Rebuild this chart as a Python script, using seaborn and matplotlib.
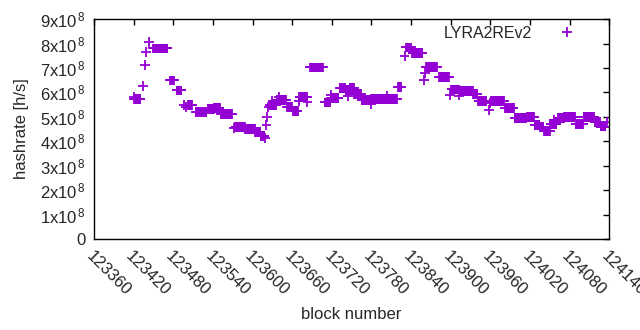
import numpy as np
import pandas as pd
import seaborn as sns
import matplotlib.pyplot as plt

# runs of blocks sharing the same hashrate estimate: first block, number of blocks, hashrate (x1e8 h/s)
run_start = [123420, 123421, 123434, 123437, 123439, 123443, 123449, 123475, 123485,
             123496, 123499, 123502, 123514, 123532, 123542, 123552, 123572, 123574,
             123589, 123604, 123613, 123619, 123621, 123622, 123624, 123626, 123630,
             123631, 123637, 123640, 123652, 123661, 123670, 123671, 123683, 123687,
             123709, 123718, 123719, 123732, 123741, 123745, 123747, 123754, 123765,
             123779, 123780, 123797, 123803, 123820, 123830, 123832, 123842, 123859,
             123861, 123863, 123882, 123899, 123901, 123913, 123914, 123934, 123942,
             123958, 123960, 123961, 123982, 123997, 124015, 124027, 124035, 124041,
             124051, 124056, 124062, 124072, 124089, 124101, 124118, 124127, 124137]
run_len = [1, 10, 1, 1, 1, 1, 23, 7, 8,
           1, 1, 7, 17, 10, 9, 18, 1, 15,
           15, 8, 6, 1, 1, 1, 1, 4, 1,
           5, 14, 1, 8, 8, 1, 12, 1, 20,
           9, 1, 12, 9, 6, 1, 7, 11, 14,
           1, 17, 22, 1, 6, 1, 9, 16, 1,
           1, 17, 16, 1, 12, 1, 20, 7, 12,
           1, 1, 20, 14, 18, 12, 8, 6, 10,
           10, 1, 10, 17, 12, 17, 9, 8, 1]
run_val = [5.82, 5.73, 6.26, 7.12, 7.64, 8.05, 7.80, 6.49, 6.08,
           5.48, 5.39, 5.48, 5.21, 5.31, 5.35, 5.10, 4.55, 4.57,
           4.50, 4.37, 4.23, 4.12, 4.66, 5.00, 5.41, 5.48, 5.66,
           5.48, 5.69, 5.82, 5.39, 5.24, 5.66, 5.80, 5.59, 7.02,
           5.59, 5.89, 5.76, 6.17, 6.10, 5.86, 6.19, 5.93, 5.69,
           5.52, 5.72, 5.74, 5.85, 6.21, 7.49, 7.84, 7.60, 6.51,
           6.78, 7.05, 6.62, 5.90, 6.12, 5.87, 6.06, 5.92, 5.66,
           5.28, 5.55, 5.66, 5.35, 4.94, 5.00, 4.66, 4.60, 4.43,
           4.71, 4.87, 4.94, 5.00, 4.71, 5.00, 4.80, 4.60, 4.80]

blocks = np.concatenate([np.arange(s, s + n) for s, n in zip(run_start, run_len)])
rates = np.repeat(np.array(run_val) * 1e8, run_len)
df = pd.DataFrame({"block": blocks, "hashrate": rates, "algo": "LYRA2REv2"})

x_ticks = list(range(123360, 124141, 60))
y_ticks = [i * 1e8 for i in range(10)]
y_labels = ["0"] + [r"%dx10$^{\,8}$" % i for i in range(1, 10)]

sns.set_style("white")
plt.rcParams["font.family"] = ["Liberation Sans", "DejaVu Sans"]
plt.rcParams["mathtext.fontset"] = "custom"
plt.rcParams["mathtext.rm"] = "Liberation Sans"
plt.rcParams["mathtext.it"] = "Liberation Sans"

fig = plt.figure(figsize=(6.4, 3.3), dpi=100)
ax = fig.add_axes([0.147, 0.276, 0.805, 0.666])

sns.scatterplot(data=df, x="block", y="hashrate", hue="algo", palette=["#9400d3"],
                marker="+", s=50, linewidth=1.3, ax=ax)

ax.set_xlim(123360, 124140)
ax.set_ylim(0, 9e8)
ax.set_xticks(x_ticks)
ax.set_xticklabels([str(t) for t in x_ticks], rotation=-45, ha="left", va="top",
                   rotation_mode="anchor", fontsize=12)
ax.set_yticks(y_ticks)
ax.set_yticklabels(y_labels, fontsize=12)
ax.tick_params(direction="in", length=4, width=1, top=True, right=True, pad=6, color="black")
ax.tick_params(axis="x", pad=7)
for sp in ax.spines.values():
    sp.set_visible(True)
    sp.set_color("black")
    sp.set_linewidth(1)

ax.set_xlabel("block number", fontsize=12, labelpad=6)
ax.set_ylabel("hashrate [h/s]", fontsize=12, labelpad=8)

ax.legend(loc="upper right", frameon=False, markerfirst=False, fontsize=11.5,
          handletextpad=1.2, borderaxespad=0.0, bbox_to_anchor=(0.962, 1.0))

fig.savefig("out.png", dpi=100)
